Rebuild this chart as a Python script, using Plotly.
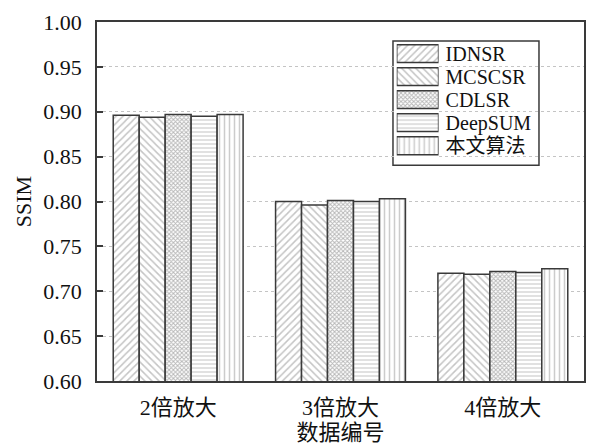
import plotly.graph_objects as go

categories = ["2倍放大", "3倍放大", "4倍放大"]
methods = ["IDNSR", "MCSCSR", "CDLSR", "DeepSUM", "本文算法"]
idnsr = [0.896, 0.800, 0.720]
mcscsr = [0.894, 0.796, 0.719]
cdlsr = [0.897, 0.801, 0.722]
deepsum = [0.895, 0.800, 0.721]
ours = [0.897, 0.803, 0.725]
series = [idnsr, mcscsr, cdlsr, deepsum, ours]
patterns = ["/", "\\", "x", "-", "|"]
pat_size = [5, 5, 3, 4, 5]
pat_solid = [0.3, 0.3, 0.55, 0.3, 0.3]
pat_color = ["#8a8a8a", "#8a8a8a", "#707070", "#9a9a9a", "#9a9a9a"]
y_ticks = [0.60, 0.65, 0.70, 0.75, 0.80, 0.85, 0.90, 0.95, 1.00]

FONT = "Liberation Serif, Times New Roman, Noto Sans CJK SC, serif"
EDGE = "#3a3a3a"


def marker_for(i):
    return dict(
        color="white",
        line=dict(color=EDGE, width=1.5),
        pattern=dict(shape=patterns[i], fgcolor=pat_color[i], bgcolor="white",
                     size=pat_size[i], solidity=pat_solid[i]),
    )


fig = go.Figure()
for i, (name, vals) in enumerate(zip(methods, series)):
    fig.add_trace(go.Bar(x=categories, y=vals, name=name, marker=marker_for(i),
                         showlegend=False, xaxis="x", yaxis="y"))

# custom legend drawn as an inset subplot (long swatches like the original)
for i, name in enumerate(methods):
    fig.add_trace(go.Bar(x=[1], y=[name], orientation="h", marker=marker_for(i),
                         showlegend=False, xaxis="x2", yaxis="y2", hoverinfo="skip"))

fig.update_layout(
    width=595, height=447,
    margin=dict(l=97, r=9, t=22, b=63),
    paper_bgcolor="white", plot_bgcolor="white",
    barmode="group", bargap=0.2, bargroupgap=0,
    font=dict(family=FONT, size=22, color="#111111"),
    showlegend=False,
    xaxis=dict(
        domain=[0, 1],
        showline=True, linecolor=EDGE, linewidth=1.5, mirror=True,
        ticks="", showgrid=False, ticklabelstandoff=6,
        title=dict(text="数据编号", standoff=2, font=dict(size=22)),
    ),
    yaxis=dict(
        domain=[0, 1],
        range=[0.60, 1.00], tickvals=y_ticks, ticktext=[f"{v:.2f}" for v in y_ticks],
        showline=True, linecolor=EDGE, linewidth=1.5, mirror=True,
        ticks="inside", ticklen=6, tickwidth=1.5, tickcolor=EDGE,
        ticklabelstandoff=9,
        showgrid=True, gridcolor="#c4c4c4", griddash="dot", gridwidth=1,
        zeroline=False,
        title=dict(text="SSIM", standoff=6, font=dict(size=22)),
    ),
    xaxis2=dict(
        domain=[0.6155, 0.7014], anchor="y2", range=[0, 1],
        showline=False, showgrid=False, zeroline=False, showticklabels=False, ticks="",
    ),
    yaxis2=dict(
        domain=[0.6235, 0.944], anchor="x2", side="right",
        autorange="reversed", type="category",
        tickmode="array", tickvals=methods, ticktext=methods,
        showline=False, showgrid=False, zeroline=False, ticks="",
        ticklabelstandoff=6,
        tickfont=dict(size=20),
    ),
    shapes=[dict(
        type="rect", xref="x2 domain", yref="y2 domain",
        x0=-0.09, x1=3.4, y0=-0.07, y1=1.01,
        line=dict(color=EDGE, width=1.5), fillcolor="white", layer="below",
    )],
)
fig.update_traces(selector=dict(xaxis="x2"), width=0.78)

fig.write_html("out.html", config={"displayModeBar": False},
               post_script="document.body.style.margin='0';document.body.style.overflow='hidden';")
